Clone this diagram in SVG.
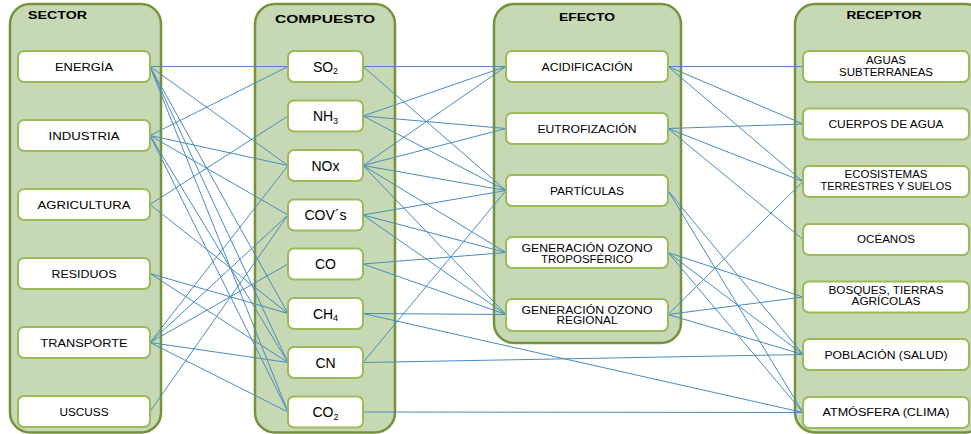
<svg xmlns="http://www.w3.org/2000/svg" width="971" height="434" viewBox="0 0 971 434">
<style>
.panel{fill:#c6d9b4;stroke:#76923c;stroke-width:2.5}
.node{fill:#ffffff;stroke:#9bbb59;stroke-width:2}
.hdr{font-family:"Liberation Sans",Arial,sans-serif;font-weight:bold;font-size:10.5px;fill:#000}
.lbl{font-family:"Liberation Sans",Arial,sans-serif;font-size:10px;fill:#000;text-anchor:middle}
.cmp{font-family:"Liberation Sans",Arial,sans-serif;font-size:14px;fill:#000;text-anchor:middle}
.sub{font-size:9px}
.edges line{stroke:#4a8bc2;stroke-width:1;fill:none}
</style>
<rect width="971" height="434" fill="#ffffff"/>
<g id="panels">
<rect class="panel" x="10" y="4" width="151" height="428.5" rx="20"/>
<rect class="panel" x="255" y="4" width="140" height="428.5" rx="20"/>
<rect class="panel" x="494" y="4" width="187" height="339" rx="20"/>
<rect class="panel" x="795" y="4" width="190" height="428.5" rx="20"/>
<text class="hdr" x="28" y="18.5" textLength="59" lengthAdjust="spacingAndGlyphs">SECTOR</text>
<text class="hdr" x="325" y="23" text-anchor="middle" textLength="100" lengthAdjust="spacingAndGlyphs">COMPUESTO</text>
<text class="hdr" x="587" y="20.5" text-anchor="middle" textLength="56" lengthAdjust="spacingAndGlyphs">EFECTO</text>
<text class="hdr" x="884" y="18.5" text-anchor="middle" textLength="75" lengthAdjust="spacingAndGlyphs">RECEPTOR</text>
</g>
<g class="edges" id="connectors">
<!-- sector -> compuesto -->
<line x1="150" y1="66.5" x2="288" y2="66.5"/>
<line x1="150" y1="66.5" x2="288" y2="165.5"/>
<line x1="150" y1="66.5" x2="288" y2="313.5"/>
<line x1="150" y1="66.5" x2="288" y2="362.5"/>
<line x1="150" y1="66.5" x2="288" y2="412"/>
<line x1="150" y1="135.5" x2="288" y2="66.5"/>
<line x1="150" y1="135.5" x2="288" y2="165.5"/>
<line x1="150" y1="135.5" x2="288" y2="215"/>
<line x1="150" y1="135.5" x2="288" y2="362.5"/>
<line x1="150" y1="135.5" x2="288" y2="412"/>
<line x1="150" y1="204.5" x2="288" y2="116"/>
<line x1="150" y1="204.5" x2="288" y2="313.5"/>
<line x1="150" y1="273.5" x2="288" y2="313.5"/>
<line x1="150" y1="273.5" x2="288" y2="362.5"/>
<line x1="150" y1="342.5" x2="288" y2="165.5"/>
<line x1="150" y1="342.5" x2="288" y2="215"/>
<line x1="150" y1="342.5" x2="288" y2="264"/>
<line x1="150" y1="342.5" x2="288" y2="362.5"/>
<line x1="150" y1="342.5" x2="288" y2="412"/>
<line x1="150" y1="411.5" x2="288" y2="215"/>
<!-- compuesto -> efecto -->
<line x1="363" y1="66.5" x2="506" y2="66.5"/>
<line x1="363" y1="66.5" x2="506" y2="190.5"/>
<line x1="363" y1="116" x2="506" y2="66.5"/>
<line x1="363" y1="116" x2="506" y2="128.5"/>
<line x1="363" y1="116" x2="506" y2="190.5"/>
<line x1="363" y1="165.5" x2="506" y2="66.5"/>
<line x1="363" y1="165.5" x2="506" y2="128.5"/>
<line x1="363" y1="165.5" x2="506" y2="190.5"/>
<line x1="363" y1="165.5" x2="506" y2="252.5"/>
<line x1="363" y1="165.5" x2="506" y2="314.5"/>
<line x1="363" y1="215" x2="506" y2="190.5"/>
<line x1="363" y1="215" x2="506" y2="252.5"/>
<line x1="363" y1="215" x2="506" y2="314.5"/>
<line x1="363" y1="264" x2="506" y2="252.5"/>
<line x1="363" y1="264" x2="506" y2="314.5"/>
<line x1="363" y1="313.5" x2="506" y2="314.5"/>
<line x1="363" y1="362.5" x2="506" y2="190.5"/>
<!-- compuesto -> receptor -->
<line x1="363" y1="313.5" x2="803" y2="412.5"/>
<line x1="363" y1="362.5" x2="803" y2="354.5"/>
<line x1="363" y1="412" x2="803" y2="412.5"/>
<!-- efecto -> receptor -->
<line x1="668" y1="66.5" x2="803" y2="66.5"/>
<line x1="668" y1="66.5" x2="803" y2="124"/>
<line x1="668" y1="66.5" x2="803" y2="181.5"/>
<line x1="668" y1="128.5" x2="803" y2="124"/>
<line x1="668" y1="128.5" x2="803" y2="181.5"/>
<line x1="668" y1="128.5" x2="803" y2="239.5"/>
<line x1="668" y1="190.5" x2="803" y2="354.5"/>
<line x1="668" y1="190.5" x2="803" y2="412.5"/>
<line x1="668" y1="252.5" x2="803" y2="297"/>
<line x1="668" y1="252.5" x2="803" y2="354.5"/>
<line x1="668" y1="252.5" x2="803" y2="412.5"/>
<line x1="668" y1="314.5" x2="803" y2="181.5"/>
<line x1="668" y1="314.5" x2="803" y2="297"/>
<line x1="668" y1="314.5" x2="803" y2="354.5"/>
</g>
<!-- SECTOR -->
<g id="energia"><rect class="node" x="18" y="51" width="132" height="31" rx="6"/><text class="lbl" x="84" y="70.5" textLength="58" lengthAdjust="spacingAndGlyphs">ENERGÍA</text></g>
<g id="industria"><rect class="node" x="18" y="120" width="132" height="31" rx="6"/><text class="lbl" x="84" y="139.5" textLength="71" lengthAdjust="spacingAndGlyphs">INDUSTRIA</text></g>
<g id="agricultura"><rect class="node" x="18" y="189" width="132" height="31" rx="6"/><text class="lbl" x="84" y="208.5" textLength="93" lengthAdjust="spacingAndGlyphs">AGRICULTURA</text></g>
<g id="residuos"><rect class="node" x="18" y="258" width="132" height="31" rx="6"/><text class="lbl" x="84" y="277.5" textLength="65" lengthAdjust="spacingAndGlyphs">RESIDUOS</text></g>
<g id="transporte"><rect class="node" x="18" y="327" width="132" height="31" rx="6"/><text class="lbl" x="84" y="346.5" textLength="87" lengthAdjust="spacingAndGlyphs">TRANSPORTE</text></g>
<g id="uscuss"><rect class="node" x="18" y="396" width="132" height="31" rx="6"/><text class="lbl" x="84" y="415.5" textLength="49" lengthAdjust="spacingAndGlyphs">USCUSS</text></g>
<!-- COMPUESTO -->
<g id="so2"><rect class="node" x="288" y="51" width="75" height="31" rx="6"/><text class="cmp" x="325.5" y="71.5">SO<tspan class="sub" dy="2.5">2</tspan></text></g>
<g id="nh3"><rect class="node" x="288" y="100.5" width="75" height="31" rx="6"/><text class="cmp" x="325.5" y="121">NH<tspan class="sub" dy="2.5">3</tspan></text></g>
<g id="nox"><rect class="node" x="288" y="150" width="75" height="31" rx="6"/><text class="cmp" x="325.5" y="170.5">NOx</text></g>
<g id="covs"><rect class="node" x="288" y="199.5" width="75" height="31" rx="6"/><text class="cmp" x="325.5" y="220">COV´s</text></g>
<g id="co"><rect class="node" x="288" y="248.5" width="75" height="31" rx="6"/><text class="cmp" x="325.5" y="269">CO</text></g>
<g id="ch4"><rect class="node" x="288" y="298" width="75" height="31" rx="6"/><text class="cmp" x="325.5" y="318.5">CH<tspan class="sub" dy="2.5">4</tspan></text></g>
<g id="cn"><rect class="node" x="288" y="347" width="75" height="31" rx="6"/><text class="cmp" x="325.5" y="367.5">CN</text></g>
<g id="co2"><rect class="node" x="288" y="396.5" width="75" height="31" rx="6"/><text class="cmp" x="325.5" y="417">CO<tspan class="sub" dy="2.5">2</tspan></text></g>
<!-- EFECTO -->
<g id="acidificacion"><rect class="node" x="506" y="51" width="162" height="31" rx="6"/><text class="lbl" x="587" y="70.5" textLength="91" lengthAdjust="spacingAndGlyphs">ACIDIFICACIÓN</text></g>
<g id="eutrofizacion"><rect class="node" x="506" y="113" width="162" height="31" rx="6"/><text class="lbl" x="587" y="132.5" textLength="99" lengthAdjust="spacingAndGlyphs">EUTROFIZACIÓN</text></g>
<g id="particulas"><rect class="node" x="506" y="175" width="162" height="31" rx="6"/><text class="lbl" x="587" y="194.5" textLength="74" lengthAdjust="spacingAndGlyphs">PARTÍCULAS</text></g>
<g id="ozono-tropo"><rect class="node" x="506" y="237" width="162" height="31" rx="6"/><text class="lbl" x="587" y="251.5" textLength="131" lengthAdjust="spacingAndGlyphs">GENERACIÓN OZONO</text><text class="lbl" x="587" y="262.5" textLength="92" lengthAdjust="spacingAndGlyphs">TROPOSFÉRICO</text></g>
<g id="ozono-regional"><rect class="node" x="506" y="299" width="162" height="32" rx="6"/><text class="lbl" x="587" y="313.5" textLength="131" lengthAdjust="spacingAndGlyphs">GENERACIÓN OZONO</text><text class="lbl" x="587" y="324" textLength="61" lengthAdjust="spacingAndGlyphs">REGIONAL</text></g>
<!-- RECEPTOR -->
<g id="aguas"><rect class="node" x="803" y="51" width="166" height="31" rx="6"/><text class="lbl" x="886" y="64" textLength="40" lengthAdjust="spacingAndGlyphs">AGUAS</text><text class="lbl" x="886" y="76" textLength="94" lengthAdjust="spacingAndGlyphs">SUBTERRANEAS</text></g>
<g id="cuerpos"><rect class="node" x="803" y="108.5" width="166" height="31" rx="6"/><text class="lbl" x="886" y="128.3" textLength="115" lengthAdjust="spacingAndGlyphs">CUERPOS DE AGUA</text></g>
<g id="ecosistemas"><rect class="node" x="803" y="166" width="166" height="31" rx="6"/><text class="lbl" x="886" y="178.3" textLength="83" lengthAdjust="spacingAndGlyphs">ECOSISTEMAS</text><text class="lbl" x="886" y="190" textLength="131" lengthAdjust="spacingAndGlyphs">TERRESTRES Y SUELOS</text></g>
<g id="oceanos"><rect class="node" x="803" y="224" width="166" height="31" rx="6"/><text class="lbl" x="886" y="243" textLength="58" lengthAdjust="spacingAndGlyphs">OCÉANOS</text></g>
<g id="bosques"><rect class="node" x="803" y="281.5" width="166" height="31" rx="6"/><text class="lbl" x="886" y="294.3" textLength="115" lengthAdjust="spacingAndGlyphs">BOSQUES, TIERRAS</text><text class="lbl" x="886" y="305" textLength="69" lengthAdjust="spacingAndGlyphs">AGRÍCOLAS</text></g>
<g id="poblacion"><rect class="node" x="803" y="339" width="166" height="31" rx="6"/><text class="lbl" x="886" y="358.5" textLength="123" lengthAdjust="spacingAndGlyphs">POBLACIÓN (SALUD)</text></g>
<g id="atmosfera"><rect class="node" x="803" y="397" width="166" height="31" rx="6"/><text class="lbl" x="886" y="415.5" textLength="127" lengthAdjust="spacingAndGlyphs">ATMÓSFERA (CLIMA)</text></g>
</svg>
